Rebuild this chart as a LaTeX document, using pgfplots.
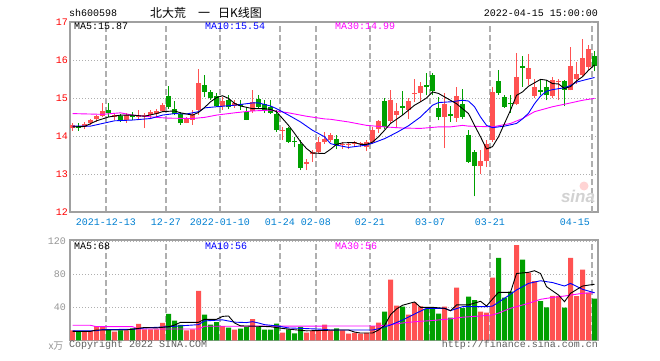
\documentclass[border=0pt]{standalone}
\usepackage{pgfplots}
\pgfplotsset{compat=1.18}
\usepackage{pgfplotstable}
\usepackage{fontspec}
\setmonofont{Liberation Mono}
\newfontfamily\cjk{Noto Sans CJK SC}
\newfontfamily\lsans{Liberation Sans}
\definecolor{cRed}{RGB}{255,82,82}
\definecolor{cGreen}{RGB}{0,160,0}
\definecolor{cBlue}{RGB}{0,0,255}
\definecolor{cMag}{RGB}{255,0,255}
\definecolor{dateBlue}{RGB}{0,128,210}
\definecolor{tickRed}{RGB}{255,0,0}
\definecolor{frameGray}{RGB}{160,160,160}
\definecolor{gridGray}{RGB}{175,175,175}
\definecolor{textGray}{RGB}{150,150,150}
\definecolor{copyGray}{RGB}{95,95,95}
\newcommand\mf{\fontsize{10}{12}\selectfont\ttfamily}

\pgfplotstableread{
k o h l c v
0 14.20 14.35 14.14 14.30 12.0
2 14.25 14.37 14.18 14.32 10.4
3 14.33 14.45 14.28 14.43 11.0
4 14.44 14.55 14.38 14.53 17.3
5 14.53 14.87 14.50 14.65 17.3
7 14.50 14.60 14.42 14.55 10.4
9 14.42 14.60 14.35 14.55 12.0
11 14.50 14.68 14.42 14.55 19.8
12 14.52 14.60 14.21 14.56 13.3
13 14.55 14.68 14.46 14.63 13.3
14 14.58 14.70 14.50 14.66 13.3
15 14.65 14.86 14.63 14.81 21.0
19 14.35 14.50 14.33 14.46 12.0
20 14.43 14.68 14.29 14.59 13.3
21 14.68 15.76 14.55 15.40 60.0
25 14.80 15.03 14.68 14.93 17.3
27 14.79 14.94 14.75 14.87 13.0
30 14.66 15.20 14.61 14.90 25.8
35 14.13 14.24 13.89 14.17 9.2
39 13.27 13.40 13.10 13.32 9.2
40 13.52 13.63 13.32 13.58 11.0
41 13.58 13.98 13.54 13.85 11.0
42 13.83 14.11 13.80 13.92 19.0
43 13.89 14.08 13.85 14.02 11.5
45 13.76 13.83 13.67 13.79 12.0
46 13.77 13.83 13.65 13.80 8.0
47 13.80 13.86 13.72 13.83 9.0
48 13.78 13.83 13.70 13.81 8.0
49 13.71 13.89 13.60 13.83 9.0
50 13.83 14.24 13.80 14.15 17.3
51 14.18 14.41 14.09 14.39 21.3
53 14.39 15.21 14.33 14.94 73.5
54 14.56 14.86 14.20 14.65 42.0
56 14.68 14.99 14.46 14.92 31.0
57 15.10 15.50 14.90 15.13 45.6
58 15.12 15.41 14.90 15.31 41.0
62 14.50 15.12 13.68 14.83 40.8
64 14.48 15.30 14.37 15.06 63.8
68 13.20 13.62 12.99 13.33 34.7
69 13.33 13.89 13.18 13.78 33.5
70 13.89 15.30 13.84 15.16 75.9
74 14.83 16.19 14.81 15.56 115.5
76 15.51 16.17 15.34 15.80 82.0
77 15.05 15.51 14.99 15.29 71.9
80 15.05 15.56 14.99 15.47 54.0
81 15.41 15.49 14.94 15.44 54.0
83 15.20 16.35 15.20 15.84 100.0
84 15.49 15.95 15.38 15.63 53.7
85 15.60 16.54 15.56 16.04 85.6
86 15.82 16.39 15.75 16.28 57.7
}\redtab

\pgfplotstableread{
k o h l c v
1 14.27 14.35 14.14 14.22 11.0
6 14.68 14.88 14.50 14.60 12.9
8 14.53 14.58 14.38 14.42 12.0
10 14.55 14.64 14.43 14.50 14.5
16 15.05 15.31 14.72 14.77 31.9
17 14.72 14.92 14.55 14.59 23.8
18 14.59 14.64 14.29 14.33 18.6
22 15.34 15.60 15.03 15.16 31.0
23 15.15 15.20 14.96 15.00 19.0
24 15.05 15.14 14.77 14.79 22.0
26 14.94 15.09 14.70 14.77 15.3
28 14.84 14.94 14.68 14.80 14.2
29 14.64 14.77 14.42 14.43 16.2
31 14.97 15.08 14.72 14.77 16.7
32 14.84 14.94 14.60 14.68 13.0
33 14.77 14.94 14.58 14.61 13.0
34 14.59 14.68 14.11 14.15 20.2
36 14.20 14.24 13.82 13.85 13.3
37 13.87 13.98 13.70 13.84 8.5
38 13.80 13.89 13.10 13.17 16.2
44 13.93 14.02 13.65 13.76 14.5
52 14.92 14.99 14.18 14.24 34.7
55 14.78 15.18 14.55 14.74 40.8
59 15.34 15.65 15.07 15.30 38.0
60 15.60 15.67 15.07 15.18 38.0
61 14.74 15.03 14.41 14.50 32.3
63 14.59 14.79 14.37 14.52 27.4
65 14.83 15.25 14.46 14.50 39.0
66 14.02 14.15 13.29 13.32 52.9
67 13.58 13.62 12.41 13.20 48.8
71 15.44 15.75 15.08 15.14 100.0
72 15.03 15.07 14.74 14.77 51.6
73 14.86 15.07 14.61 14.83 58.9
75 15.84 16.10 15.30 15.80 97.7
78 15.20 15.49 15.07 15.17 47.6
79 15.28 15.47 14.94 15.07 40.0
82 15.45 15.47 14.78 15.22 39.5
87 16.10 16.25 15.70 15.85 50.4
}\greentab

\pgfplotsset{
  kbase/.style={
    scale only axis, width=528pt, anchor=south west,
    xmin=0, xmax=88,
    xtick={6,16,25,35,41,50,60,70}, extra x ticks={87},
    major tick length=0pt, tick style={draw=none},
    axis line style={draw=frameGray, line width=1.2pt},
    xmajorgrids, ymajorgrids,
    major x grid style={draw=gridGray, line width=1.2pt, dash pattern=on 6pt off 3pt},
    major y grid style={draw=gridGray, line width=1pt, dash pattern=on 1pt off 2pt},
    extra x tick style={grid=major, major grid style={draw=gridGray, line width=1.2pt, dash pattern=on 6pt off 3pt}},
    ticklabel style={font=\mf},
    clip=true,
  },
  wick/.style={draw=none, mark=none, forget plot,
    error bars/.cd, y dir=plus, y explicit, error mark=none,
    error bar style={draw=#1, line width=1pt, solid}},
  body/.style={draw=none, mark=none, forget plot,
    error bars/.cd, y dir=plus, y explicit, error mark=none,
    error bar style={draw=#1, line width=5pt, solid, line cap=butt}},
  maline/.style={draw=#1, line width=0.9pt, mark=none, forget plot, x filter/.expression={x+0.42}},
}

\begin{document}
\begin{tikzpicture}
\path[use as bounding box, fill=white] (0pt,0pt) rectangle (660pt,360pt);

% ---------- price panel ----------
\begin{axis}[kbase, at={(70pt,148pt)}, height=190pt,
  ymin=12, ymax=17, ytick={12,13,14,15,16,17},
  yticklabels={12,13,14,15,16,17},
  yticklabel style={text=tickRed, inner sep=2pt},
  xticklabels={2021-12-13,12-27,2022-01-10,01-24,02-08,02-21,03-07,03-21},
  extra x tick labels={04-15},
  xticklabel style={text=dateBlue, inner sep=2pt, yshift=-5pt},
  extra x tick style={xticklabel style={anchor=north east, text=dateBlue}},
]
\addplot[wick=cRed] table[x expr=\thisrow{k}+0.42, y=l, y error expr=\thisrow{h}-\thisrow{l}] {\redtab};
\addplot[body=cRed] table[x expr=\thisrow{k}+0.42, y=o, y error expr=\thisrow{c}-\thisrow{o}] {\redtab};
\addplot[wick=cGreen] table[x expr=\thisrow{k}+0.42, y=l, y error expr=\thisrow{h}-\thisrow{l}] {\greentab};
\addplot[body=cGreen] table[x expr=\thisrow{k}+0.42, y=c, y error expr=\thisrow{o}-\thisrow{c}] {\greentab};

% MA30
\addplot[maline=cMag] coordinates {(0,14.59)(5,14.57)(8,14.61)(10,14.55)(14,14.49)(16,14.47)(20,14.46)(22,14.49)(24,14.55)(27,14.61)(30,14.66)(33,14.68)(36,14.61)(39,14.52)(42,14.45)(43,14.44)(46,14.37)(49,14.28)(52,14.24)(55,14.21)(58,14.20)(61,14.24)(63,14.24)(65,14.28)(66,14.26)(70,14.24)(73,14.33)(75,14.46)(77,14.64)(80,14.77)(83,14.87)(85,14.94)(87,14.99)};
% MA10
\addplot[maline=cBlue] coordinates {(0,14.26)(3,14.26)(5,14.33)(7,14.40)(10,14.42)(13,14.46)(15,14.55)(17,14.59)(19,14.58)(21,14.64)(22,14.74)(24,14.77)(27,14.81)(30,14.87)(31,14.87)(33,14.79)(34,14.72)(36,14.55)(38,14.37)(40,14.15)(42,13.98)(43,13.80)(44,13.76)(46,13.70)(49,13.76)(50,13.81)(52,13.93)(54,14.09)(56,14.27)(58,14.50)(60,14.81)(61,14.88)(63,14.90)(65,14.94)(66,14.92)(67,14.77)(68,14.50)(69,14.28)(70,14.22)(72,14.26)(74,14.33)(75,14.45)(76,14.60)(77,14.85)(78,15.05)(79,15.18)(80,15.22)(82,15.27)(83,15.33)(84,15.42)(86,15.50)(87,15.54)};
% MA5
\addplot[maline=black] coordinates {(0,14.24)(2,14.25)(4,14.40)(6,14.50)(8,14.55)(10,14.55)(12,14.52)(14,14.59)(15,14.64)(17,14.66)(18,14.61)(20,14.55)(21,14.62)(22,14.75)(23,14.90)(24,15.01)(25,15.06)(26,14.99)(27,14.86)(28,14.79)(30,14.72)(32,14.72)(33,14.70)(34,14.64)(35,14.46)(36,14.28)(37,14.07)(38,13.85)(39,13.67)(40,13.55)(42,13.54)(43,13.65)(44,13.78)(45,13.82)(47,13.83)(48,13.78)(49,13.78)(50,13.84)(51,13.98)(52,14.15)(53,14.33)(55,14.55)(57,14.81)(58,14.90)(59,15.00)(60,15.16)(61,15.12)(62,15.03)(63,14.94)(64,14.85)(65,14.72)(66,14.59)(67,14.28)(68,13.98)(69,13.66)(70,13.72)(71,13.98)(72,14.33)(73,14.68)(74,15.07)(75,15.16)(76,15.31)(77,15.40)(78,15.49)(79,15.47)(80,15.38)(81,15.37)(82,15.25)(83,15.30)(84,15.45)(85,15.56)(86,15.73)(87,15.87)};
\end{axis}

% ---------- volume panel ----------
\begin{axis}[kbase, at={(70pt,19.7pt)}, height=100.3pt,
  ymin=0, ymax=121.6, ytick={40,80,120},
  yticklabels={40,80,120},
  yticklabel style={text=textGray, inner sep=4pt},
  xticklabels={}, extra x tick labels={},
]
\addplot[ybar, bar width=5pt, bar shift=0pt, fill=cRed, draw=none, forget plot] table[x expr=\thisrow{k}+0.42, y=v] {\redtab};
\addplot[ybar, bar width=5pt, bar shift=0pt, fill=cGreen, draw=none, forget plot] table[x expr=\thisrow{k}+0.42, y=v] {\greentab};
% MA30
\addplot[maline=cMag] coordinates {(0,18.2)(3,18.2)(4,16.5)(10,16.5)(11,13.7)(21,13.7)(22,17.0)(43,17.3)(51,17.3)(53,19.0)(55,21.0)(57,22.5)(60,24.0)(63,26.0)(65,28.0)(68,29.5)(70,30.7)(71,33.0)(73,38.8)(76,44.8)(78,49.7)(80,52.0)(82,53.7)(85,57.0)(87,57.7)};
% MA10
\addplot[maline=cBlue] coordinates {(0,11.6)(4,11.6)(5,13.0)(10,13.3)(12,15.0)(16,16.5)(18,17.5)(21,19.0)(22,23.5)(25,24.8)(27,22.0)(29,21.5)(30,22.6)(31,21.0)(32,19.0)(34,17.5)(36,15.0)(38,14.5)(42,13.3)(43,12.5)(50,12.5)(51,14.0)(53,18.5)(55,24.6)(57,31.9)(59,38.8)(62,38.8)(63,36.0)(65,40.8)(69,40.8)(70,41.5)(72,50.9)(74,61.0)(76,69.0)(78,72.2)(80,70.0)(82,65.8)(83,69.0)(85,61.8)(87,57.7)};
% MA5
\addplot[maline=black] coordinates {(0,10.9)(3,10.9)(4,12.5)(9,12.5)(10,13.5)(12,15.5)(14,15.0)(16,16.5)(17,18.5)(18,21.8)(21,21.8)(22,25.4)(24,25.4)(25,29.0)(26,29.5)(27,21.0)(28,17.5)(31,17.0)(33,16.5)(35,14.4)(37,12.8)(39,11.5)(42,12.0)(44,12.5)(46,12.5)(47,10.0)(48,8.8)(50,8.8)(51,12.5)(52,18.0)(53,31.0)(54,38.0)(55,42.5)(57,46.5)(58,40.0)(60,40.0)(62,38.8)(63,35.8)(64,42.9)(66,42.9)(68,47.3)(69,41.6)(70,50.0)(71,58.2)(73,58.2)(74,81.0)(76,82.4)(77,84.4)(78,81.0)(79,65.0)(81,54.9)(82,46.8)(83,57.0)(85,65.8)(87,68.0)};
\end{axis}

% ---------- texts ----------
\node[anchor=west, inner sep=0pt, font=\mf] at (69pt,347pt) {sh600598};
\node[anchor=west, inner sep=0pt, font=\cjk\fontsize{12}{14}\selectfont] at (150pt,347pt) {北大荒\hspace{12pt}一\hspace{8pt}日K线图};
\node[anchor=east, inner sep=0pt, font=\mf] at (598pt,347pt) {2022-04-15 15:00:00};
\node[anchor=west, inner sep=0pt, font=\mf] at (74pt,334pt) {MA5:15.87};
\node[anchor=west, inner sep=0pt, font=\mf, text=cBlue] at (205pt,334pt) {MA10:15.54};
\node[anchor=west, inner sep=0pt, font=\mf, text=cMag] at (335pt,334pt) {MA30:14.99};
\node[anchor=west, inner sep=0pt, font=\mf] at (74pt,113.5pt) {MA5:68};
\node[anchor=west, inner sep=0pt, font=\mf, text=cBlue] at (205pt,113.5pt) {MA10:56};
\node[anchor=west, inner sep=0pt, font=\mf, text=cMag] at (335pt,113.5pt) {MA30:56};
\node[inner sep=0pt, font=\cjk\fontsize{10}{12}\selectfont, text=textGray] at (56pt,14pt) {x万};
\node[anchor=west, inner sep=0pt, font=\mf, text=copyGray] at (69pt,15pt) {Copyright 2022 SINA.COM};
\node[anchor=east, inner sep=0pt, font=\mf, text=copyGray] at (598pt,15pt) {http://finance.sina.com.cn};
\node[inner sep=0pt, font=\lsans\bfseries\itshape\fontsize{17}{17}\selectfont, text=gray!35] at (578pt,164pt) {sina};
\fill[cRed!25] (584pt,174pt) circle (4.5pt);
\end{tikzpicture}
\end{document}
